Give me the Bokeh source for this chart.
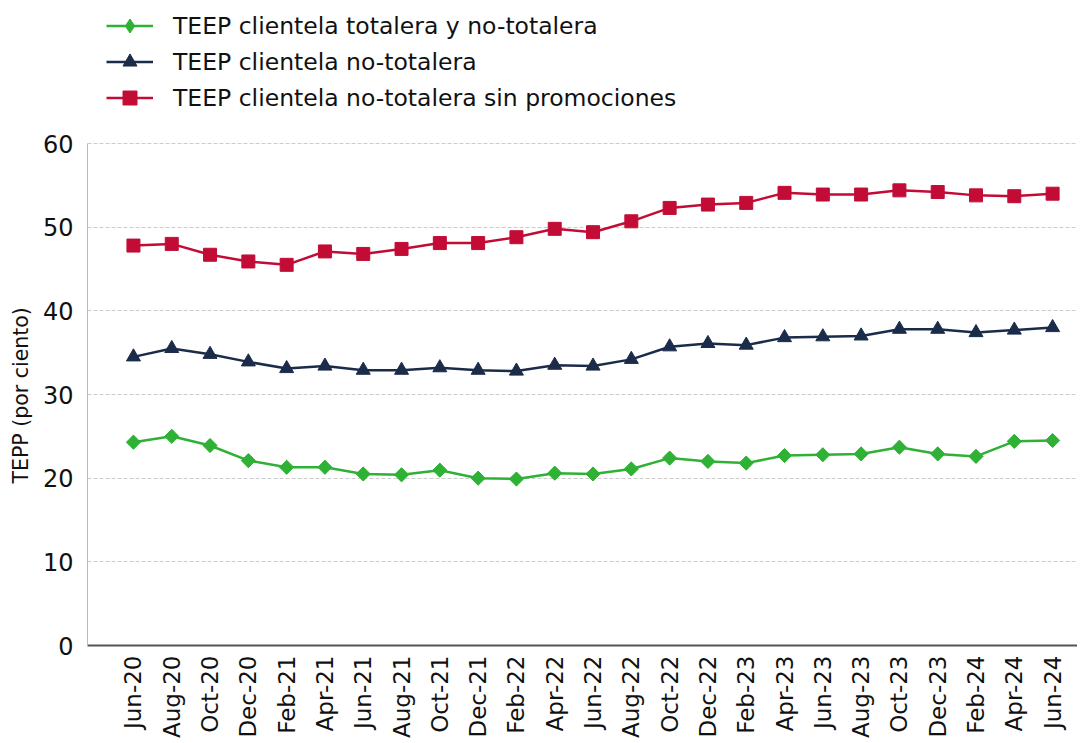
import math
from bokeh.plotting import figure
from bokeh.models import (Range1d, FixedTicker, Legend, LegendItem, Title)
from bokeh.embed import file_html
from bokeh.resources import INLINE

months = ["Jun-20", "Aug-20", "Oct-20", "Dec-20", "Feb-21", "Apr-21", "Jun-21",
          "Aug-21", "Oct-21", "Dec-21", "Feb-22", "Apr-22", "Jun-22", "Aug-22",
          "Oct-22", "Dec-22", "Feb-23", "Apr-23", "Jun-23", "Aug-23", "Oct-23",
          "Dec-23", "Feb-24", "Apr-24", "Jun-24"]

teep_total = [24.3, 25.0, 23.9, 22.1, 21.3, 21.3, 20.5, 20.4, 20.95, 20.0, 19.9,
              20.6, 20.5, 21.1, 22.4, 22.0, 21.8, 22.7, 22.8, 22.9, 23.7, 22.9,
              22.6, 24.4, 24.5]
teep_no_totalera = [34.5, 35.5, 34.8, 33.9, 33.1, 33.4, 32.9, 32.9, 33.2, 32.9,
                    32.8, 33.5, 33.4, 34.2, 35.7, 36.1, 35.9, 36.8, 36.9, 37.0,
                    37.8, 37.8, 37.4, 37.7, 38.0]
teep_sin_promo = [47.8, 48.0, 46.7, 45.9, 45.5, 47.1, 46.8, 47.4, 48.1, 48.1,
                  48.8, 49.8, 49.4, 50.7, 52.3, 52.7, 52.9, 54.1, 53.9, 53.9,
                  54.4, 54.2, 53.8, 53.7, 54.0]

labels = ["TEEP clientela totalera y no-totalera",
          "TEEP clientela no-totalera",
          "TEEP clientela no-totalera sin promociones"]
y_label = "TEPP (por ciento)"
y_ticks = [0, 10, 20, 30, 40, 50, 60]

FONT = "DejaVu Sans"
x = list(range(len(months)))

# frame spans the whole top area so the legend can sit above the 60 line
FRAME_H = 645
Y_TOP = 60 * FRAME_H / 502.0

p = figure(width=1077, height=740, output_backend="svg", toolbar_location=None,
           x_range=Range1d(-1.2, 24.65), y_range=Range1d(0, Y_TOP),
           min_border_left=86, min_border_right=0, min_border_top=0,
           min_border_bottom=95)
p.outline_line_color = None
p.background_fill_color = "white"
p.border_fill_color = "white"

p.xgrid.grid_line_color = None
p.ygrid.grid_line_color = "#cccccc"
p.ygrid.grid_line_dash = "4 2"
p.ygrid.grid_line_width = 1

p.xaxis.ticker = FixedTicker(ticks=x)
p.xaxis.major_label_overrides = {i: m for i, m in enumerate(months)}
p.xaxis.major_label_orientation = math.pi / 2
p.xaxis.major_label_text_font = FONT
p.xaxis.major_label_text_font_size = "23px"
p.xaxis.major_label_text_color = "#111111"
p.xaxis.major_label_standoff = 4
p.xaxis.major_tick_line_color = None
p.xaxis.minor_tick_line_color = None
p.xaxis.axis_line_color = "#555555"
p.xaxis.axis_line_width = 2

p.yaxis.ticker = FixedTicker(ticks=y_ticks)
p.yaxis.bounds = (0, 60)
p.yaxis.major_label_text_font = FONT
p.yaxis.major_label_text_font_size = "24px"
p.yaxis.major_label_text_color = "#111111"
p.yaxis.major_label_standoff = 8
p.yaxis.major_tick_line_color = None
p.yaxis.minor_tick_line_color = None
p.yaxis.axis_line_color = "#bbbbbb"
p.yaxis.axis_line_width = 1

# y-axis title, placed along the 0-60 span
p.add_layout(Title(text=y_label, align="left", offset=162,
                   text_font=FONT, text_font_size="20.5px",
                   text_font_style="normal", text_color="#111111",
                   standoff=13), "left")

GREEN, NAVY, RED = "#2eb135", "#1b2c4a", "#c20c36"

items = []
# series 1: diamonds (a plain diamond drawn beneath the rotated squares
# serves as the legend glyph, since legend glyphs ignore marker angle)
ln1 = p.line(x, teep_total, line_color=GREEN, line_width=2.5)
leg1 = p.scatter(x, teep_total, marker="diamond", size=13,
                 fill_color=GREEN, line_color=GREEN)
p.scatter(x, teep_total, marker="square", angle=math.pi / 4, size=10,
          fill_color=GREEN, line_color=GREEN)
items.append(LegendItem(label=labels[0], renderers=[ln1, leg1]))

ln2 = p.line(x, teep_no_totalera, line_color=NAVY, line_width=2.5)
sc2 = p.scatter(x, teep_no_totalera, marker="triangle", size=14,
                fill_color=NAVY, line_color=NAVY)
items.append(LegendItem(label=labels[1], renderers=[ln2, sc2]))

ln3 = p.line(x, teep_sin_promo, line_color=RED, line_width=2.5)
sc3 = p.scatter(x, teep_sin_promo, marker="square", size=13,
                fill_color=RED, line_color=RED)
items.append(LegendItem(label=labels[2], renderers=[ln3, sc3]))

legend = Legend(items=items, location=(19, 530))
legend.label_text_font = FONT
legend.label_text_font_size = "23.5px"
legend.label_text_color = "#111111"
legend.glyph_width = 47
legend.glyph_height = 35
legend.label_height = 35
legend.label_standoff = 20
legend.spacing = 1
legend.padding = 0
legend.margin = 0
legend.border_line_color = None
legend.background_fill_alpha = 0
p.add_layout(legend, "center")

open("out.html", "w").write(file_html(p, INLINE))
